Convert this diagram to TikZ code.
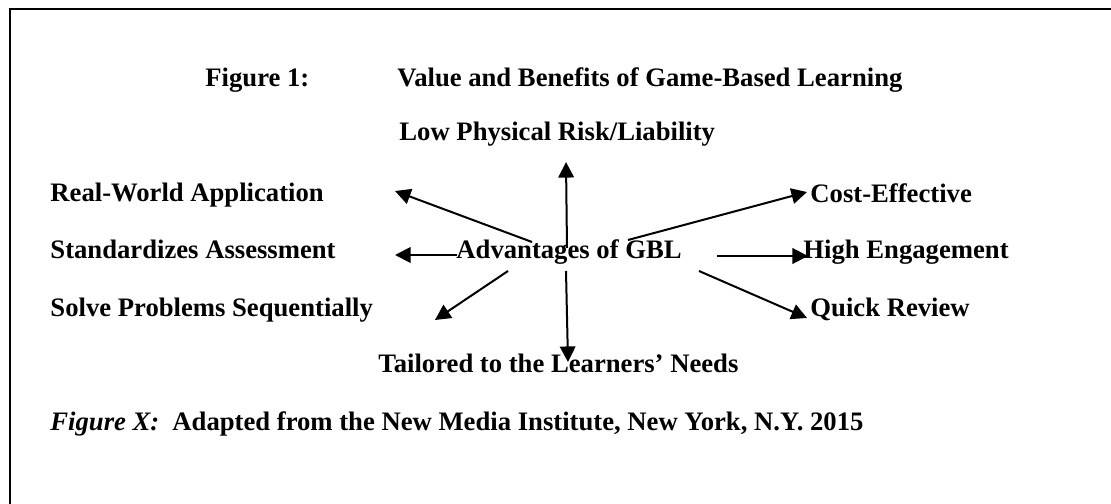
\documentclass[tikz,border=0pt]{standalone}
\usepackage{fontspec}
\setmainfont{Liberation Serif}
\usetikzlibrary{arrows.meta}

\begin{document}
\begin{tikzpicture}[x=0.45pt, y=-0.45pt]
			\tikzstyle{every node}=[inner sep=0pt, anchor=base west, font=\fontsize{12}{14}\selectfont\bfseries];
			\tikzstyle{arr}=[line width=0.9pt, -{Triangle[length=7pt, width=7pt]}];
			\useasboundingbox (0,0) rectangle (1111,504);
			% frame: top and left only
			\draw [line width=0.9pt] (9.5,504) -- (9.5,9.5) -- (1111,9.5);
			% title
			\node (fig) at (205, 87) {Figure 1:};
			\node (title) at (397, 87) {Value and Benefits of Game-Based Learning};
			% centre and benefits
			\node (adv) at (456, 258) {Advantages of GBL};
			\node (low) at (399, 141) {Low Physical Risk/Liability};
			\node (real) at (50, 201) {Real-World Application};
			\node (std) at (50, 259) {Standardizes Assessment};
			\node (solve) at (50, 316) {Solve Problems Sequentially};
			\node (tail) at (378, 372) {Tailored to the Learners’ Needs};
			\node (cost) at (810, 202) {Cost-Effective};
			\node (high) at (803, 258) {High Engagement};
			\node (quick) at (810, 316) {Quick Review};
			% arrow ends
			\coordinate (sLow) at (567, 248);   \coordinate (tLow) at (566, 162);
			\coordinate (sReal) at (532, 242);  \coordinate (tReal) at (395, 191);
			\coordinate (sStd) at (457, 255);   \coordinate (tStd) at (395, 255);
			\coordinate (sSolve) at (508, 271); \coordinate (tSolve) at (435, 320);
			\coordinate (sTail) at (566, 271);  \coordinate (tTail) at (568, 362);
			\coordinate (sCost) at (628, 240);  \coordinate (tCost) at (807, 192);
			\coordinate (sHigh) at (717, 256);  \coordinate (tHigh) at (808, 256);
			\coordinate (sQuick) at (699, 271); \coordinate (tQuick) at (807, 318);
			\draw (sLow) edge[arr] (tLow);
			\draw (sReal) edge[arr] (tReal);
			\draw (sStd) edge[arr] (tStd);
			\draw (sSolve) edge[arr] (tSolve);
			\draw (sTail) edge[arr] (tTail);
			\draw (sCost) edge[arr] (tCost);
			\draw (sHigh) edge[arr] (tHigh);
			\draw (sQuick) edge[arr] (tQuick);
			% source line
			\node [font=\fontsize{12}{14}\selectfont\bfseries\itshape] (figx) at (50, 430) {Figure X:};
			\node (src) at (172, 430) {Adapted from the New Media Institute, New York, N.Y. 2015};
		\end{tikzpicture}
\end{document}
